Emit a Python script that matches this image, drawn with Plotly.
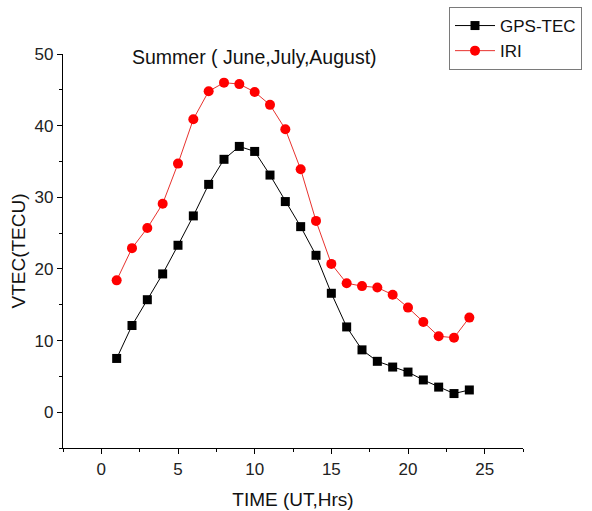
import plotly.graph_objects as go

# Hourly mean vertical TEC, summer months
hours = list(range(1, 25))
gps_tec = [7.5, 12.1, 15.7, 19.3, 23.3, 27.4, 31.8, 35.3, 37.1, 36.4, 33.1, 29.4,
           25.9, 21.9, 16.6, 11.9, 8.7, 7.1, 6.3, 5.6, 4.5, 3.5, 2.6, 3.1]
iri = [18.4, 22.9, 25.7, 29.1, 34.7, 40.9, 44.8, 46.0, 45.8, 44.7, 42.9, 39.5,
       33.9, 26.7, 20.7, 18.0, 17.6, 17.4, 16.4, 14.6, 12.6, 10.6, 10.4, 13.2]

FONT = "Liberation Sans, Arial, sans-serif"

fig = go.Figure()
fig.add_trace(go.Scatter(
    x=hours, y=gps_tec, name="GPS-TEC", mode="lines+markers",
    line=dict(color="#000000", width=1),
    marker=dict(symbol="square", size=9, color="#000000"),
))
fig.add_trace(go.Scatter(
    x=hours, y=iri, name="IRI", mode="lines+markers",
    line=dict(color="#e8322e", width=1),
    marker=dict(symbol="circle", size=10, color="#ff0000"),
))

axis_common = dict(
    showline=True, linecolor="#000000", linewidth=1.3, mirror=False,
    showgrid=False, zeroline=False, automargin=False,
    ticks="outside", ticklen=5, tickwidth=1.2, tickcolor="#000000",
    tickfont=dict(family=FONT, size=17, color="#222222"),
)

fig.update_layout(
    width=592, height=511,
    paper_bgcolor="white", plot_bgcolor="white",
    margin=dict(l=63, r=69, t=54, b=63, autoexpand=False),
    font=dict(family=FONT, color="#111111"),
    xaxis=dict(
        range=[-2.5, 27.5], tick0=0, dtick=5,
        minor=dict(dtick=2.5, ticks="outside", ticklen=3, tickcolor="#000000", tickwidth=1),
        title=dict(text="TIME (UT,Hrs)", font=dict(family=FONT, size=19), standoff=15),
        **axis_common,
    ),
    yaxis=dict(
        range=[-5, 50], tick0=0, dtick=10,
        minor=dict(dtick=5, ticks="outside", ticklen=3, tickcolor="#000000", tickwidth=1),
        title=dict(text="VTEC(TECU)", font=dict(family=FONT, size=19), standoff=3),
        **axis_common,
    ),
    legend=dict(
        xref="container", yref="container",
        x=449 / 592, y=1 - 7 / 511, xanchor="left", yanchor="top",
        bordercolor="#7a7a7a", borderwidth=1, bgcolor="white",
        font=dict(family=FONT, size=17, color="#111111"),
        tracegroupgap=0, itemwidth=40,
    ),
    annotations=[dict(
        text="Summer ( June,July,August)", xref="paper", yref="paper",
        x=0.417, y=0.993, xanchor="center", yanchor="middle", showarrow=False,
        font=dict(family=FONT, size=19.5, color="#111111"),
    )],
)

fig.write_html("out.html")
